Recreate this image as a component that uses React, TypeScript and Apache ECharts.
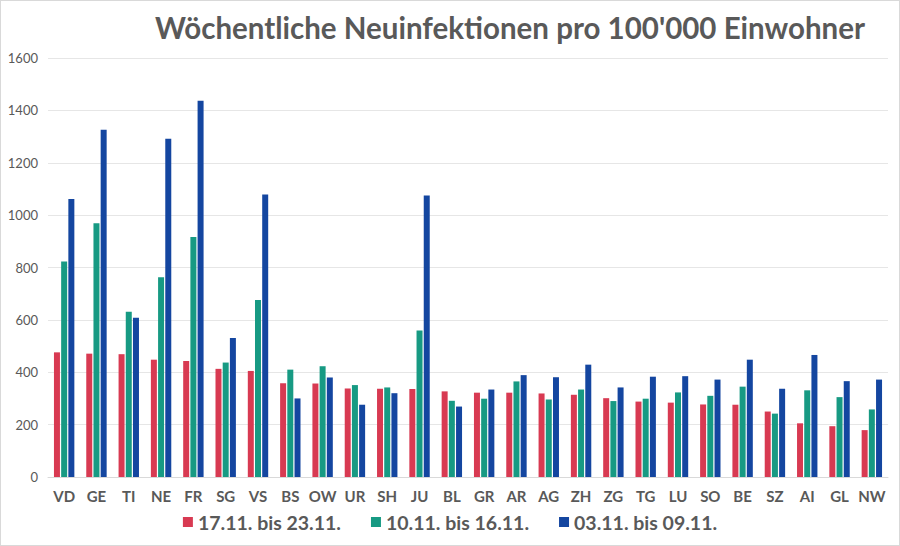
import React, { useEffect, useRef } from "react";
import * as echarts from "echarts";

const categories = ["VD","GE","TI","NE","FR","SG","VS","BS","OW","UR","SH","JU","BL","GR","AR","AG","ZH","ZG","TG","LU","SO","BE","SZ","AI","GL","NW"];
const week3 = [476,471,469,448,443,413,405,358,357,338,337,336,327,322,322,319,314,301,288,284,277,276,250,205,194,179];
const week2 = [823,969,631,763,916,437,676,410,423,351,342,559,291,299,365,296,334,290,299,323,310,345,242,331,305,258];
const week1 = [1062,1326,608,1292,1437,531,1079,300,380,276,320,1075,269,334,389,381,429,342,383,385,372,448,337,466,366,372];
const seriesNames = ["17.11. bis 23.11.","10.11. bis 16.11.","03.11. bis 09.11."];
const colors = ["#d83a52","#179a83","#1446a0"];
const title = "Wöchentliche Neuinfektionen pro 100'000 Einwohner";

export default function App() {
  const ref = useRef<HTMLDivElement>(null);
  useEffect(() => {
    if (!ref.current) return;
    const chart = echarts.init(ref.current, null, { renderer: "svg" });
    const data = [week3, week2, week1];
    chart.setOption({
      animation: false,
      backgroundColor: "#ffffff",
      textStyle: { fontFamily: "Lato" },
      title: {
        text: title,
        right: 29,
        top: 6,
        textStyle: { fontFamily: "Lato", fontWeight: "bold", fontSize: 29.5, color: "#595959" },
      },
      legend: {
        bottom: 8,
        left: "center",
        itemWidth: 10,
        itemHeight: 10,
        itemGap: 30,
        icon: "rect",
        textStyle: { fontFamily: "Lato", fontWeight: "bold", fontSize: 19.5, color: "#595959" },
        data: seriesNames,
      },
      grid: { left: 47, right: 11, top: 57, bottom: 68, containLabel: false },
      xAxis: {
        type: "category",
        data: categories,
        axisLine: { lineStyle: { color: "#d9d9d9" } },
        axisTick: { show: false },
        axisLabel: { interval: 0, fontFamily: "Lato", fontWeight: "bold", fontSize: 15, color: "#595959", margin: 11 },
      },
      yAxis: {
        type: "value",
        min: 0,
        max: 1600,
        interval: 200,
        axisLine: { show: false },
        axisTick: { show: false },
        splitLine: { lineStyle: { color: "#e6e6e6" } },
        axisLabel: { fontFamily: "Lato", fontSize: 13, color: "#595959", margin: 10, formatter: (v: number) => String(v) },
      },
      series: data.map((d, i) => ({
        name: seriesNames[i],
        type: "bar",
        data: d,
        barWidth: 6,
        barGap: "20%",
        barCategoryGap: "30%",
        itemStyle: { color: colors[i] },
      })),
    });
    return () => chart.dispose();
  }, []);
  return (
    <div
      ref={ref}
      style={{ position: "absolute", left: 0, top: 0, width: 900, height: 546, boxSizing: "border-box", border: "1px solid #d9d9d9" }}
    />
  );
}
